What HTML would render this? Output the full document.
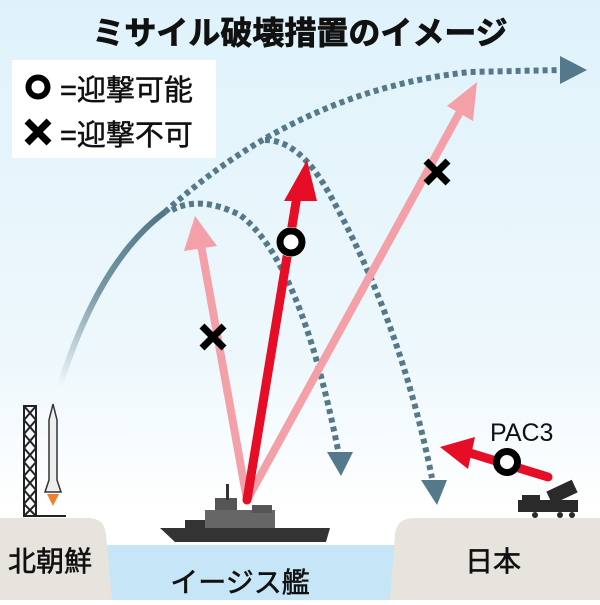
<!DOCTYPE html>
<html><head><meta charset="utf-8"><style>
html,body{margin:0;padding:0}
body{width:600px;height:600px;overflow:hidden;font-family:"Liberation Sans","Noto Sans CJK JP",sans-serif}
</style></head><body>
<svg width="600" height="600" viewBox="0 0 600 600" xmlns="http://www.w3.org/2000/svg" font-family="Liberation Sans, Noto Sans CJK JP, sans-serif">
<defs>
<linearGradient id="bg" x1="0" y1="0" x2="0" y2="1">
<stop offset="0" stop-color="#dff2fb"/><stop offset="0.6" stop-color="#eef8fc"/><stop offset="0.85" stop-color="#ffffff"/></linearGradient>
<linearGradient id="trail" x1="60" y1="385" x2="165" y2="212" gradientUnits="userSpaceOnUse">
<stop offset="0" stop-color="#5a7f8f" stop-opacity="0"/><stop offset="0.5" stop-color="#5a7f8f" stop-opacity="0.8"/><stop offset="1" stop-color="#4f7686"/></linearGradient>
</defs>
<rect width="600" height="600" fill="url(#bg)"/>
<rect x="100" y="545" width="310" height="55" fill="#c6e6f8"/>
<path d="M0,518 H88 Q105,518 106,535 L112,600 H0Z" fill="#e6e4dc"/>
<path d="M600,518 H415 Q396,518 395,535 L390,600 H600Z" fill="#e6e4dc"/>
<text x="300" y="44" font-size="32" font-weight="bold" text-anchor="middle" fill="#111" stroke="#111" stroke-width="0.8">ミサイル破壊措置のイメージ</text>
<rect x="12" y="60" width="204" height="98" fill="#fff"/>
<circle cx="38" cy="87" r="9.5" fill="none" stroke="#000" stroke-width="6"/>
<text x="60" y="100" font-size="29" fill="#111" stroke="#111" stroke-width="0.5">=迎撃可能</text>
<path d="M27,121 L49,143 M49,121 L27,143" stroke="#000" stroke-width="7"/>
<text x="60" y="145" font-size="29" fill="#111" stroke="#111" stroke-width="0.5">=迎撃不可</text>
<path d="M60,385 Q100,260 165,212" fill="none" stroke="url(#trail)" stroke-width="6"/>
<path d="M165,212 Q300,90 470,72 L560,70" fill="none" stroke="#55798a" stroke-width="6" stroke-dasharray="5,4"/>
<path d="M560,56 L587,70 L560,84Z" fill="#55798a"/>
<path d="M172,210 Q200,195 240,215 Q300,260 338,450" fill="none" stroke="#55798a" stroke-width="6" stroke-dasharray="5,4"/>
<path d="M327,452 L353,452 L341,476Z" fill="#55798a"/>
<path d="M265,140 Q300,140 330,195 Q400,320 432,478" fill="none" stroke="#55798a" stroke-width="6" stroke-dasharray="5,4"/>
<path d="M421,480 L447,480 L437,505Z" fill="#55798a"/>
<g stroke="#f4a0a8" stroke-width="8" fill="none" stroke-linecap="round">
<path d="M247,500 L201,245"/><path d="M247,500 L462,108"/></g>
<path d="M195,216 L184,251 L217,246Z" fill="#f4a0a8"/>
<path d="M477,82 L447,106 L473,121Z" fill="#f4a0a8"/>
<path d="M247,500 L298,190" stroke="#e60e26" stroke-width="9" stroke-linecap="round"/>
<path d="M307,160 L284,201 L317,201Z" fill="#e60e26"/>
<circle cx="291" cy="242" r="15" fill="#fff"/>
<circle cx="291" cy="242" r="11" fill="none" stroke="#000" stroke-width="7"/>
<path d="M202,326 L224,348 M224,326 L202,348" stroke="#000" stroke-width="7"/>
<path d="M426,161 L448,183 M448,161 L426,183" stroke="#000" stroke-width="7"/>
<path d="M548,477 L470,453" stroke="#e60e26" stroke-width="9" stroke-linecap="round"/>
<path d="M440,447 L475,437 L468,469Z" fill="#e60e26"/>
<circle cx="507" cy="462" r="14" fill="#fff"/>
<circle cx="507" cy="462" r="10.5" fill="none" stroke="#000" stroke-width="7"/>
<text x="490" y="441" font-size="25" fill="#111">PAC3</text>
<g fill="#2a2a2a">
<rect x="518" y="500" width="60" height="12"/><rect x="548" y="485" width="28" height="14" transform="rotate(-25 562 492)"/>
<rect x="522" y="495" width="18" height="8"/>
<circle cx="535" cy="515" r="3"/><circle cx="560" cy="515" r="3"/><circle cx="572" cy="515" r="3"/></g>
<g stroke="#222" stroke-width="2" fill="none">
<rect x="24" y="406" width="12" height="110"/>
<path d="M24,406 L36,420 L24,434 L36,448 L24,462 L36,476 L24,490 L36,504 L24,516 M36,406 L24,420 L36,434 L24,448 L36,462 L24,476 L36,490 L24,504 L36,516"/>
<path d="M24,516 H66"/></g>
<path d="M53,404 L57,420 L57,480 L61,492 L45,492 L49,480 L49,420Z" fill="#eee" stroke="#333" stroke-width="1.5"/>
<path d="M47,494 L53,506 L59,494Z" fill="#f08030"/>
<g fill="#333">
<path d="M160,528 L330,528 L326,542 L175,542Z"/>
<rect x="205" y="510" width="70" height="18" fill="#666"/>
<rect x="215" y="498" width="22" height="12" fill="#555"/>
<rect x="252" y="505" width="20" height="8" fill="#555"/>
<rect x="226" y="484" width="3" height="16"/>
<rect x="185" y="520" width="20" height="8"/></g>
<text x="240" y="592" font-size="28" fill="#111" text-anchor="middle" stroke="#111" stroke-width="0.6">イージス艦</text>
<text x="50" y="571" font-size="28" fill="#111" text-anchor="middle" stroke="#111" stroke-width="0.6">北朝鮮</text>
<text x="493" y="571" font-size="28" fill="#111" text-anchor="middle" stroke="#111" stroke-width="0.6">日本</text>
</svg>
</body></html>
